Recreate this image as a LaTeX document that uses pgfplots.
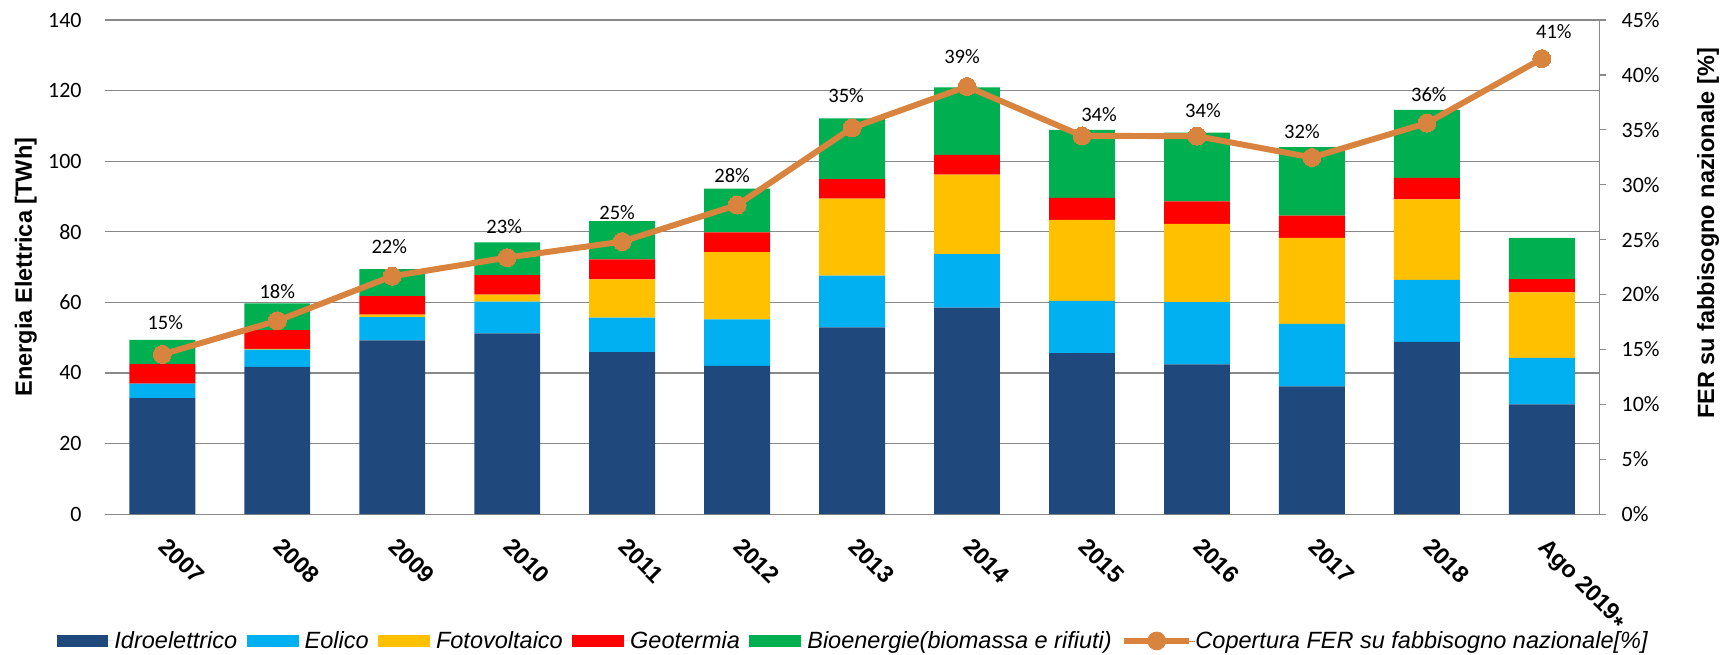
\documentclass[border=0pt]{standalone}
\usepackage{fontspec}
\setmainfont{Liberation Sans}
\newfontfamily\calibri{Carlito}
\usepackage{pgfplots}
\usepackage{pgfplotstable}
\pgfplotsset{compat=1.18}

\definecolor{cHyd}{HTML}{1F497D}
\definecolor{cEol}{HTML}{00B0F0}
\definecolor{cFv}{HTML}{FFC000}
\definecolor{cGeo}{HTML}{FF0000}
\definecolor{cBio}{HTML}{00B050}
\definecolor{cLine}{HTML}{D8833E}
\definecolor{cGrid}{HTML}{898989}

% TWh per source, coverage in %, label offsets in px
\pgfplotstableread{
x hyd eol fv geo bio pct lab dx dy
0 32.9 4.1 0.0 5.5 6.9 14.55 15 3 31
1 41.7 4.9 0.2 5.3 7.6 17.61 18 0 29
2 49.2 6.6 0.7 5.3 7.6 21.67 22 -3 29
3 51.2 9.0 2.0 5.5 9.3 23.36 23 -3 30
4 45.9 9.8 10.8 5.7 10.8 24.82 25 -5 28
5 42.0 13.2 19.0 5.6 12.4 28.15 28 -5 29
6 52.9 14.7 21.8 5.5 17.2 35.18 35 -6 32
7 58.5 15.2 22.5 5.6 19.1 38.94 39 -5 29
8 45.6 14.8 23.0 6.2 19.3 34.45 34 17 21
9 42.4 17.7 22.1 6.4 19.5 34.42 34 6 25
10 36.2 17.7 24.4 6.3 19.4 32.48 32 -10 25
11 48.8 17.6 22.8 6.1 19.2 35.61 36 2 28
12 31.1 13.2 18.5 3.8 11.7 41.48 41 12 26
}\fer

\pgfplotsset{
  swatch/.style={legend image code/.code={%
      \fill[#1] (0mm,-1.17mm) rectangle (10.4mm,1.17mm);
      \path (0mm,0mm) -- (11.6mm,0mm);}},
  common/.style={
    scale only axis, width=299.4mm, height=99mm,
    xmin=-0.5, xmax=12.5,
    /pgf/number format/assume math mode=true,
  },
}

\begin{document}
\begin{tikzpicture}
\begin{axis}[
  common,
  ymin=0, ymax=140,
  ybar stacked, bar width=13.2mm,
  xtick={0,...,12},
  xticklabels={2007,2008,2009,2010,2011,2012,2013,2014,2015,2016,2017,2018,Ago 2019\raisebox{-0.45ex}{*}},
  ytick={0,20,...,140},
  axis x line*=bottom, axis y line*=left,
  y axis line style={draw=none},
  x axis line style={draw=cGrid, line width=0.7pt},
  major tick length=0pt,
  ymajorgrids, grid style={draw=cGrid, line width=0.7pt},
  yticklabel style={font=\calibri\fontsize{12.5}{14}\selectfont, inner xsep=0pt, xshift=-4.6mm},
  xticklabel style={font=\bfseries\fontsize{13.4}{16}\selectfont, inner sep=0pt,
    xshift=1.4mm, yshift=-4.4mm, rotate=-45, anchor=north west},
  ylabel={Energia Elettrica [TWh]},
  ylabel style={font=\bfseries\fontsize{13.4}{16}\selectfont,
    at={(axis description cs:-0.0528,0.5)}, anchor=center},
  legend style={at={(0.5,-0.2566)}, anchor=center, draw=none, fill=none,
    font=\itshape\fontsize{13.4}{16}\selectfont,
    /tikz/every even column/.append style={column sep=1.9mm},
    nodes={inner sep=0pt}},
  legend columns=6,
  legend cell align=left,
]
  \coordinate (O) at (rel axis cs:0,0);
  \addplot[fill=cHyd, draw=none, swatch=cHyd] table[x=x, y=hyd] {\fer};
  \addplot[fill=cEol, draw=none, swatch=cEol] table[x=x, y=eol] {\fer};
  \addplot[fill=cFv, draw=none, swatch=cFv] table[x=x, y=fv] {\fer};
  \addplot[fill=cGeo, draw=none, swatch=cGeo] table[x=x, y=geo] {\fer};
  \addplot[fill=cBio, draw=none, swatch=cBio] table[x=x, y=bio] {\fer};
  \addlegendimage{draw=cLine, fill=cLine, legend image code/.code={%
      \draw[draw=cLine, line width=3.4pt] (0mm,0mm) -- (13mm,0mm);
      \fill[fill=cLine] (6.5mm,0mm) circle (1.8mm);
      \path (0mm,0mm) -- (14.2mm,0mm);}}
  \legend{Idroelettrico, Eolico, Fotovoltaico, Geotermia,
    Bioenergie(biomassa e rifiuti), {Copertura FER su fabbisogno nazionale[\%]}}
\end{axis}

\begin{axis}[
  common,
  ymin=0, ymax=45,
  axis x line=none, axis y line*=right,
  ytick={0,5,...,45},
  yticklabel={\pgfmathprintnumber{\tick}\%},
  y axis line style={draw=cGrid, line width=0.7pt},
  ytick style={draw=cGrid, line width=0.7pt},
  tick align=outside, major tick length=1.4mm,
  yticklabel style={font=\calibri\fontsize{12.5}{14}\selectfont, anchor=west,
    inner xsep=0pt, xshift=3.0mm},
  ylabel={FER su fabbisogno nazionale [\%]},
  ylabel style={font=\bfseries\fontsize{13.4}{16}\selectfont,
    at={(axis description cs:1.0728,0.568)}, anchor=center},
  clip=false,
]
  \addplot[color=cLine, line width=3.4pt, mark=*, mark size=1.8mm,
    mark options={solid, fill=cLine, draw=cLine, line width=0pt},
    point meta=explicit,
    visualization depends on={\thisrow{dx} \as \dx},
    visualization depends on={\thisrow{dy} \as \dy},
    nodes near coords={\pgfmathprintnumber[fixed,precision=0]{\pgfplotspointmeta}\%},
    every node near coord/.append style={text=black, anchor=south, inner sep=0pt,
      xshift={\dx*0.2mm}, yshift={(\dy-6.5)*0.2mm},
      font=\calibri\fontsize{11.7}{13}\selectfont}]
    table[x=x, y=pct, meta=lab] {\fer};
\end{axis}

\path (O) ++(-21mm,-27.8mm) rectangle ++(345mm,130.8mm);
\end{tikzpicture}
\end{document}
